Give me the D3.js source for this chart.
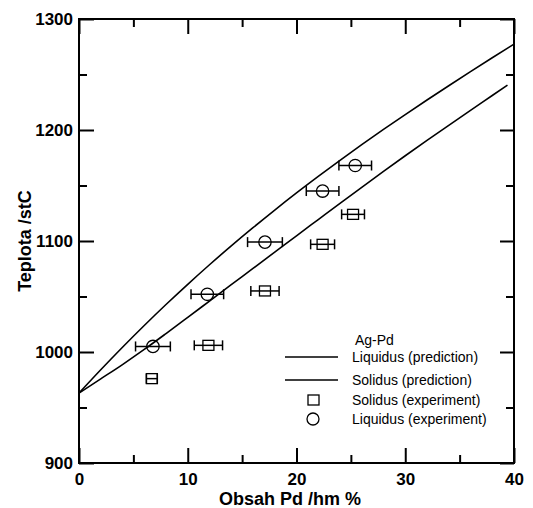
<!DOCTYPE html>
<html>
<head>
<meta charset="utf-8">
<script src="https://cdnjs.cloudflare.com/ajax/libs/d3/7.8.5/d3.min.js"></script>
<style>
  body { margin: 0; background: #fff; }
  svg text { font-family: "Liberation Sans", Arial, sans-serif; }
</style>
</head>
<body>
<div id="container"></div>
<script>
// prediction curves
const liqX = [0, 2, 4, 6, 8, 10, 12, 14, 16, 18, 20, 22, 24, 26, 28, 30, 32, 34, 36, 38, 40];
const liqT = [963, 984, 1004.3, 1023.9, 1042.8, 1061, 1078.6, 1095.6, 1112, 1127.9, 1143.3, 1158.2, 1172.7, 1186.8, 1200.5, 1213.9, 1227, 1239.9, 1252.6, 1265.1, 1277.4];
const solX = [0, 2, 4, 6, 8, 10, 12, 14, 16, 18, 20, 22, 24, 26, 28, 30, 32, 34, 36, 38, 39.4];
const solT = [963, 975.8, 988.7, 1002.3, 1016.6, 1031.2, 1045.9, 1060.6, 1075.3, 1090, 1104.7, 1119.3, 1133.9, 1148.4, 1162.7, 1176.8, 1190.6, 1204.2, 1217.7, 1231.1, 1240.5];

// experiment points
const liqExpX = [6.8, 11.8, 17.1, 22.4, 25.4];
const liqExpT = [1005, 1052, 1099, 1145, 1168];
const liqExpErr = [1.6, 1.5, 1.6, 1.5, 1.5];
const solExpX = [6.7, 11.9, 17.1, 22.4, 25.2];
const solExpT = [976, 1006, 1055, 1097, 1124];
const solExpErr = [0.5, 1.3, 1.3, 1.1, 1.05];

const xTicks = [0, 10, 20, 30, 40];
const yTicks = [900, 1000, 1100, 1200, 1300];
const xMinor = [5, 15, 25, 35];
const yMinor = [950, 1050, 1150, 1250];

const legendItems = ['Liquidus (prediction)', 'Solidus (prediction)', 'Solidus (experiment)', 'Liquidus (experiment)'];

const width = 533, height = 508;
const m = { left: 79, right: 514, top: 19, bottom: 463 };

const x = d3.scaleLinear().domain([0, 40]).range([m.left, m.right]);
const y = d3.scaleLinear().domain([900, 1300]).range([m.bottom, m.top]);

const svg = d3.select('#container').append('svg')
  .attr('width', width)
  .attr('height', height);

// axes, ticks pointing inward on all four sides
function styleAxis(g) {
  g.select('.domain').remove();
  g.selectAll('line').attr('stroke', '#000').attr('stroke-width', 2);
  g.selectAll('text').attr('fill', '#000').style('font-size', '17px').style('font-weight', 'bold');
}

svg.append('g').attr('transform', `translate(0,${m.bottom})`)
  .call(d3.axisBottom(x).tickValues(xTicks).tickSizeInner(-15).tickSizeOuter(0).tickPadding(10).tickFormat(d3.format('d')))
  .call(styleAxis);
svg.append('g').attr('transform', `translate(0,${m.bottom})`)
  .call(d3.axisBottom(x).tickValues(xMinor).tickSizeInner(-8).tickSizeOuter(0).tickFormat(''))
  .call(styleAxis);
svg.append('g').attr('transform', `translate(0,${m.top})`)
  .call(d3.axisTop(x).tickValues(xTicks).tickSizeInner(-15).tickSizeOuter(0).tickFormat(''))
  .call(styleAxis);
svg.append('g').attr('transform', `translate(0,${m.top})`)
  .call(d3.axisTop(x).tickValues(xMinor).tickSizeInner(-8).tickSizeOuter(0).tickFormat(''))
  .call(styleAxis);

svg.append('g').attr('transform', `translate(${m.left},0)`)
  .call(d3.axisLeft(y).tickValues(yTicks).tickSizeInner(-15).tickSizeOuter(0).tickPadding(6).tickFormat(d3.format('d')))
  .call(styleAxis);
svg.append('g').attr('transform', `translate(${m.left},0)`)
  .call(d3.axisLeft(y).tickValues(yMinor).tickSizeInner(-8).tickSizeOuter(0).tickFormat(''))
  .call(styleAxis);
svg.append('g').attr('transform', `translate(${m.right},0)`)
  .call(d3.axisRight(y).tickValues(yTicks).tickSizeInner(-14).tickSizeOuter(0).tickFormat(''))
  .call(styleAxis);
svg.append('g').attr('transform', `translate(${m.right},0)`)
  .call(d3.axisRight(y).tickValues(yMinor).tickSizeInner(-8).tickSizeOuter(0).tickFormat(''))
  .call(styleAxis);

// frame
svg.append('rect')
  .attr('x', m.left).attr('y', m.top)
  .attr('width', m.right - m.left).attr('height', m.bottom - m.top)
  .attr('fill', 'none').attr('stroke', '#000').attr('stroke-width', 2);

// axis titles
svg.append('text')
  .attr('x', 290).attr('y', 505)
  .attr('text-anchor', 'middle')
  .style('font-size', '18px').style('font-weight', 'bold')
  .text('Obsah Pd /hm %');

svg.append('text')
  .attr('transform', `translate(31,${(m.top + m.bottom) / 2}) rotate(-90)`)
  .attr('text-anchor', 'middle')
  .style('font-size', '18px').style('font-weight', 'bold')
  .text('Teplota /stC');

// prediction curves
const line = d3.line().x((d) => x(d[0])).y((d) => y(d[1])).curve(d3.curveMonotoneX);

svg.append('path')
  .datum(liqX.map((v, i) => [v, liqT[i]]))
  .attr('d', line)
  .attr('fill', 'none').attr('stroke', '#000').attr('stroke-width', 1.6);

svg.append('path')
  .datum(solX.map((v, i) => [v, solT[i]]))
  .attr('d', line)
  .attr('fill', 'none').attr('stroke', '#000').attr('stroke-width', 1.6);

// error bars
function errorBars(xs, ts, errs) {
  const g = svg.append('g').attr('stroke', '#000').attr('stroke-width', 1.5);
  xs.forEach((v, i) => {
    const yy = y(ts[i]);
    g.append('line').attr('x1', x(v - errs[i])).attr('x2', x(v + errs[i])).attr('y1', yy).attr('y2', yy);
    g.append('line').attr('x1', x(v - errs[i])).attr('x2', x(v - errs[i])).attr('y1', yy - 5).attr('y2', yy + 5);
    g.append('line').attr('x1', x(v + errs[i])).attr('x2', x(v + errs[i])).attr('y1', yy - 5).attr('y2', yy + 5);
  });
}
errorBars(liqExpX, liqExpT, liqExpErr);
errorBars(solExpX, solExpT, solExpErr);

svg.append('g').selectAll('circle')
  .data(liqExpX).enter()
  .append('circle')
  .attr('cx', (d) => x(d))
  .attr('cy', (d, i) => y(liqExpT[i]))
  .attr('r', 6.2)
  .attr('fill', 'none').attr('stroke', '#000').attr('stroke-width', 1.3);

svg.append('g').selectAll('rect')
  .data(solExpX).enter()
  .append('rect')
  .attr('x', (d) => x(d) - 5.5)
  .attr('y', (d, i) => y(solExpT[i]) - 5)
  .attr('width', 11).attr('height', 10)
  .attr('fill', 'none').attr('stroke', '#000').attr('stroke-width', 1.3);

// legend
const legend = svg.append('g');
legend.append('text')
  .attr('x', 355).attr('y', 345)
  .style('font-size', '14px')
  .text('Ag-Pd');

const rowY = [357, 380, 400, 419];
legend.selectAll('.lbl')
  .data(legendItems).enter()
  .append('text')
  .attr('class', 'lbl')
  .attr('x', 352)
  .attr('y', (d, i) => rowY[i] + 5)
  .style('font-size', '14px')
  .text((d) => d);

[0, 1].forEach((i) => {
  legend.append('line')
    .attr('x1', 285).attr('x2', 338)
    .attr('y1', rowY[i]).attr('y2', rowY[i])
    .attr('stroke', '#000').attr('stroke-width', 1.6);
});
legend.append('rect')
  .attr('x', 308).attr('y', rowY[2] - 5)
  .attr('width', 11).attr('height', 10)
  .attr('fill', 'none').attr('stroke', '#000').attr('stroke-width', 1.3);
legend.append('circle')
  .attr('cx', 313).attr('cy', rowY[3])
  .attr('r', 6)
  .attr('fill', 'none').attr('stroke', '#000').attr('stroke-width', 1.3);
</script>
</body>
</html>
